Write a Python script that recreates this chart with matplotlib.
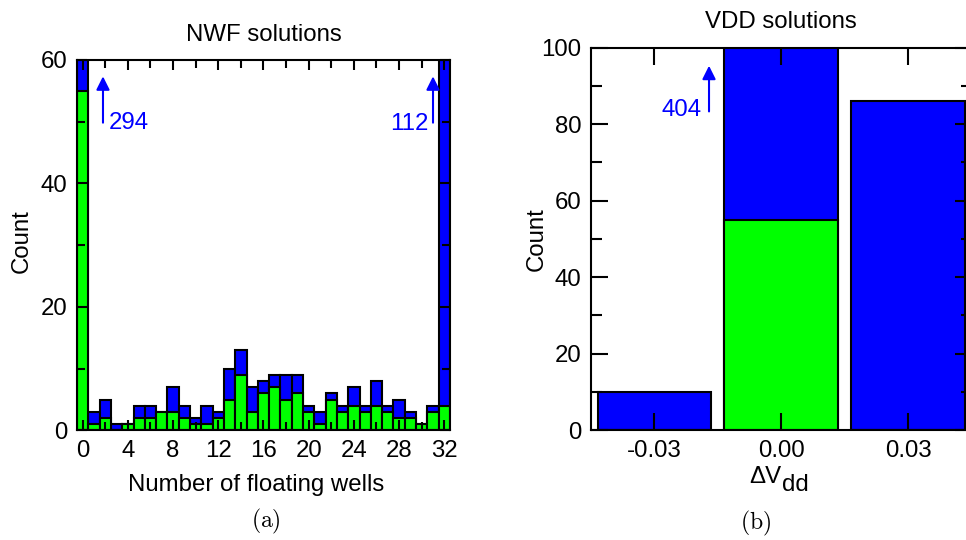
import numpy as np
import matplotlib
matplotlib.use("Agg")
import matplotlib.pyplot as plt

plt.rcParams['font.family'] = ['Liberation Sans', 'DejaVu Sans']
plt.rcParams['mathtext.fontset'] = 'cm'

# --- NWF histogram: number of floating wells 0..32 ---
wells = np.arange(0, 33)
nwf_total = [294, 3, 5, 1, 1, 4, 4, 3, 7, 4, 2, 4, 3, 10, 13, 7, 8,
             9, 9, 9, 4, 3, 6, 4, 7, 4, 8, 4, 5, 3, 1, 4, 112]
nwf_green = [55, 1, 2, 0, 1, 2, 2, 3, 3, 2, 1, 1, 2, 5, 9, 3, 6,
             7, 5, 6, 3, 1, 5, 3, 4, 3, 4, 3, 2, 2, 1, 3, 4]

# --- VDD histogram ---
dvdd = [-0.03, 0.00, 0.03]
dvdd_labels = ['-0.03', '0.00', '0.03']
vdd_total = [10, 404, 86]
vdd_green = [0, 55, 0]

BLUE = '#0000ff'
GREEN = '#00ff00'
FS = 17.3

fig = plt.figure(figsize=(9.66, 5.40), dpi=100)

# ---------------- left panel ----------------
ax1 = fig.add_axes([0.0797, 0.2028, 0.3861, 0.6861])
ax1.bar(wells, nwf_total, width=1.0, color=BLUE, edgecolor='black', linewidth=1.5)
ax1.bar(wells, nwf_green, width=1.0, color=GREEN, edgecolor='black', linewidth=1.5)
ax1.set_xlim(-0.5, 32.5)
ax1.set_ylim(0, 60)
ax1.set_xticks(np.arange(0, 33, 4))
ax1.set_xticks(np.arange(0, 33, 2), minor=True)
ax1.set_yticks([0, 20, 40, 60])
ax1.set_yticks([10, 30, 50], minor=True)
ax1.tick_params(which='both', direction='in', top=True, right=True,
                labelsize=FS, width=1.5, pad=7)
ax1.tick_params(which='major', length=7)
ax1.tick_params(which='minor', length=6)
ax1.set_xlabel('Number of floating wells', fontsize=FS, va='center')
ax1.xaxis.set_label_coords(0.48, -0.148)
ax1.set_ylabel('Count', fontsize=FS, va='center')
ax1.yaxis.set_label_coords(-0.148, 0.51)
ax1.set_title('NWF solutions', fontsize=FS, pad=14)

ax1.annotate('', xy=(1.8, 57.8), xytext=(1.8, 49.4),
             arrowprops=dict(arrowstyle='-|>', color=BLUE, lw=1.5, mutation_scale=20))
ax1.text(2.35, 49.8, str(nwf_total[0]), color=BLUE, fontsize=FS,
         ha='left', va='center')
ax1.annotate('', xy=(31.0, 57.8), xytext=(31.0, 49.4),
             arrowprops=dict(arrowstyle='-|>', color=BLUE, lw=1.5, mutation_scale=20))
ax1.text(30.6, 49.6, str(nwf_total[-1]), color=BLUE, fontsize=FS,
         ha='right', va='center')

# ---------------- right panel ----------------
ax2 = fig.add_axes([0.6118, 0.2037, 0.3941, 0.7080])
ax2.bar(dvdd, vdd_total, width=0.0269, color=BLUE, edgecolor='black', linewidth=1.5)
ax2.bar(dvdd, vdd_green, width=0.0269, color=GREEN, edgecolor='black', linewidth=1.5)
ax2.set_xlim(-0.045, 0.045)
ax2.set_ylim(0, 100)
ax2.set_xticks(dvdd)
ax2.set_xticklabels(dvdd_labels)
ax2.set_yticks(np.arange(0, 101, 20))
ax2.set_yticks(np.arange(10, 100, 20), minor=True)
ax2.tick_params(which='both', direction='in', top=True, right=True,
                labelsize=FS, width=1.5, pad=7)
ax2.tick_params(which='major', length=12)
ax2.tick_params(which='minor', length=8)
ax2.set_ylabel('Count', fontsize=FS, va='center')
ax2.yaxis.set_label_coords(-0.142, 0.50)
ax2.set_title('VDD solutions', fontsize=FS, pad=14)

# x label: delta V with a full-size, lowered "dd" subscript
ax2.text(0.5, -0.123, '\u0394V', transform=ax2.transAxes, fontsize=FS,
         ha='right', va='center')
ax2.text(0.502, -0.145, 'dd', transform=ax2.transAxes, fontsize=FS,
         ha='left', va='center')

ax2.annotate('', xy=(-0.0171, 96.0), xytext=(-0.0171, 82.6),
             arrowprops=dict(arrowstyle='-|>', color=BLUE, lw=1.5, mutation_scale=20))
ax2.text(-0.0189, 83.8, str(vdd_total[1]), color=BLUE, fontsize=FS,
         ha='right', va='center')

for ax in (ax1, ax2):
    for s in ax.spines.values():
        s.set_linewidth(1.5)

fig.text(266 / 966, 1 - 521 / 540, r'$\mathrm{(a)}$', fontsize=17,
         ha='center', va='center')
fig.text(756 / 966, 1 - 523 / 540, r'$\mathrm{(b)}$', fontsize=17,
         ha='center', va='center')

fig.savefig('out.png', dpi=100)
